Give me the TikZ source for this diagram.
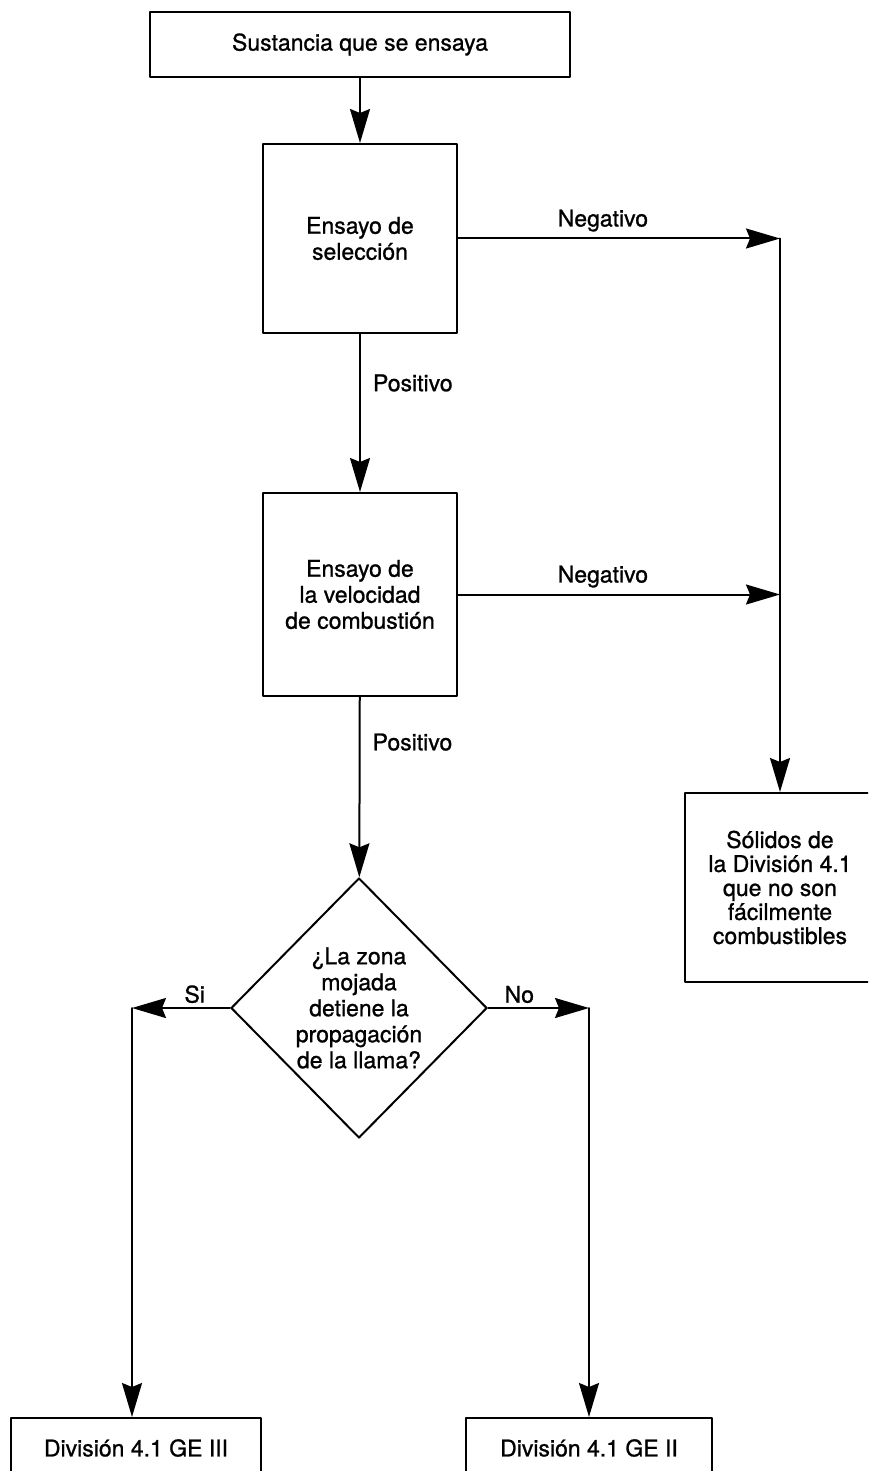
\documentclass[tikz,border=0pt]{standalone}
\usepackage{fontspec}
\setmainfont{TeX Gyre Heros}[FakeBold=1]
\usetikzlibrary{arrows.meta,shapes.geometric}

\begin{document}
\begin{tikzpicture}[
  x=1pt,
  y=-1pt,
  line cap=round,
  line join=round,
  font=\fontsize{23}{26}\selectfont,
  caja/.style={
    draw=black,
    line width=2pt,
    align=center,
    inner sep=0pt
  },
  rombo/.style={
    draw=black,
    line width=2pt,
    diamond,
    align=center,
    inner sep=0pt,
    minimum width=256pt,
    minimum height=260pt
  },
  flecha/.style={
    draw=black,
    line width=2pt,
    -{Stealth[length=34pt,width=20pt,inset=4pt]}
  },
  rotulo/.style={
    inner sep=2pt
  }
]

  % marco de la pagina
  \useasboundingbox (0,0) rectangle (868,1471);
  \clip (0,0) rectangle (868,1471);

  % cajas
  \node[caja, minimum width=420pt, minimum height=65pt]
    (sustancia) at (360,44.5) {Sustancia que se ensaya};

  \node[caja, minimum width=194pt, minimum height=189pt]
    (seleccion) at (360,238.5) {Ensayo de\\selección};

  \node[caja, minimum width=194pt, minimum height=203pt]
    (velocidad) at (360,594.5) {Ensayo de\\la velocidad\\de combustión};

  \node[caja, minimum width=190pt, minimum height=189pt,
        font=\fontsize{23}{24}\selectfont]
    (solidos) at (780,887.5)
    {Sólidos de\\la División 4.1\\que no son\\fácilmente\\combustibles};

  % pregunta
  \node[rombo] (zona) at (359,1008)
    {¿La zona\\mojada\\detiene la\\propagación\\de la llama?};

  % resultados
  \node[caja, minimum width=250pt, minimum height=60pt]
    (geIII) at (136,1448) {División 4.1 GE III};

  \node[caja, minimum width=246pt, minimum height=60pt]
    (geII) at (589,1448) {División 4.1 GE II};

  % esquinas
  \coordinate (negA) at (780,238.5);
  \coordinate (si) at (132,1008);
  \coordinate (no) at (589,1008);

  % flujo principal
  \draw[flecha] (sustancia) -- (seleccion);

  \draw[flecha] (seleccion) -- (velocidad)
    node[rotulo, pos=0.31, anchor=west, xshift=10pt] {Positivo};

  \draw[flecha] (velocidad) -- (zona)
    node[rotulo, pos=0.25, anchor=west, xshift=10pt] {Positivo};

  % ramas negativas
  \draw[flecha] (seleccion.east) -- (negA)
    node[rotulo, pos=0.45, anchor=south, yshift=4pt] {Negativo};

  \draw[flecha] (velocidad.east) -- (velocidad.east -| negA)
    node[rotulo, pos=0.45, anchor=south, yshift=4pt] {Negativo};

  \draw[flecha] (negA) -- (solidos);

  % Si / No
  \draw[flecha] (zona.west) -- (si)
    node[rotulo, pos=0.36, anchor=south, yshift=2pt] {Si};

  \draw[flecha] (si) -- (si |- geIII.north);

  \draw[flecha] (zona.east) -- (no)
    node[rotulo, pos=0.31, anchor=south, yshift=2pt] {No};

  \draw[flecha] (no) -- (geII);

\end{tikzpicture}
\end{document}
